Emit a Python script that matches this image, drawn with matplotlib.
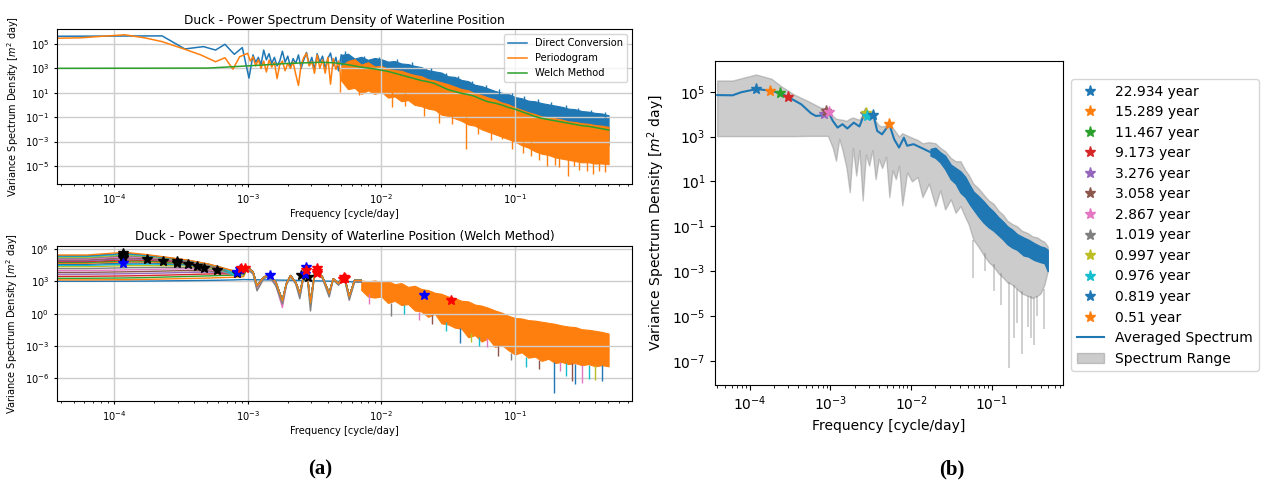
import numpy as np
import matplotlib
matplotlib.use("Agg")
import matplotlib.pyplot as plt
from matplotlib.ticker import NullLocator

# every number below is log10: frequency [cycle/day] and PSD [m^2 day]

# ---- (a) top: three estimates ----
direct_f = [-4.42, -3.64, -3.47, -3.33, -3.24, -3.17, -3.10, -3.04, -2.99, -2.96, -2.94, -2.92, -2.90,
            -2.88, -2.86, -2.84, -2.82, -2.80, -2.78, -2.76, -2.74, -2.72, -2.70, -2.68, -2.66, -2.64,
            -2.62, -2.60, -2.58, -2.56, -2.54, -2.52, -2.50, -2.48, -2.46, -2.44, -2.42, -2.40, -2.38,
            -2.36, -2.34, -2.32, -2.30]
direct_v = [5.63, 5.66, 4.59, 4.78, 4.5, 4.97, 4.15, 4.7, 2.2, 4.1, 3.5, 3.9, 3.3,
            4.5, 3.7, 4.2, 3.4, 3.9, 3.2, 3.6, 4.4, 3.5, 4.0, 3.1, 3.8, 3.4,
            4.1, 3.0, 3.7, 4.3, 3.3, 3.9, 2.9, 4.2, 3.5, 4.0, 3.0, 3.8, 4.25,
            3.2, 3.9, 2.8, 4.1]
perio_f = [-4.42, -4.25, -4.10, -3.92, -3.77, -3.64, -3.47, -3.35, -3.24, -3.17, -3.11, -3.06, -3.00,
           -2.98, -2.96, -2.94, -2.92, -2.90, -2.88, -2.86, -2.84, -2.82, -2.80, -2.78, -2.76, -2.74,
           -2.72, -2.70, -2.68, -2.66, -2.64, -2.62, -2.60, -2.58, -2.56, -2.54, -2.52, -2.50, -2.48,
           -2.46, -2.44, -2.42, -2.40, -2.38, -2.36, -2.34, -2.32, -2.30]
perio_v = [5.47, 5.5, 5.62, 5.75, 5.5, 5.19, 4.56, 4.1, 3.54, 3.87, 2.93, 3.95, 4.23,
           3.6, 3.95, 3.2, 3.7, 3.0, 3.6, 2.7, 3.68, 3.1, 3.5, 2.16, 3.3, 3.6,
           2.8, 3.4, 3.0, 3.5, 2.5, 1.6, 3.3, 3.9, 4.23, 3.2, 3.54, 2.6, 4.1,
           3.0, 3.7, 2.6, 3.9, 1.7, 3.8, 2.9, 3.6, 2.0]

top_band_f = [-2.30, -2.25, -2.20, -2.15, -2.10, -2.05, -2.00, -1.95, -1.90, -1.85, -1.80, -1.75, -1.70, -1.65,
              -1.60, -1.55, -1.50, -1.45, -1.40, -1.35, -1.30, -1.25, -1.20, -1.15, -1.10, -1.05, -1.00, -0.95,
              -0.90, -0.85, -0.80, -0.75, -0.70, -0.65, -0.60, -0.55, -0.50, -0.45, -0.40, -0.35, -0.30]
direct_hi = [4.1, 4.2, 3.8, 3.95, 3.7, 3.85, 3.75, 3.55, 3.6, 3.4, 3.35, 3.2, 3.1, 2.85,
             2.75, 2.65, 2.35, 2.3, 2.05, 1.95, 1.65, 1.55, 1.35, 1.15, 1.0, 0.9, 0.65, 0.55,
             0.35, 0.3, 0.15, 0.05, -0.05, -0.15, -0.3, -0.35, -0.5, -0.55, -0.65, -0.7, -0.85]
direct_lo = [3.3, 2.6, 2.6, 2.1, 2.4, 2.0, 2.2, 1.8, 1.8, 1.6, 1.5, 1.2, 1.1, 0.9,
             0.8, 0.5, 0.4, 0.2, 0.0, -0.2, -0.4, -0.6, -0.8, -1.0, -1.2, -1.4, -1.6, -1.9,
             -2.1, -2.3, -2.5, -2.6, -2.7, -2.8, -2.9, -3.0, -3.1, -3.1, -3.2, -3.3, -3.3]
direct_spike_f = [-2.27, -2.13, -2.02, -1.88, -1.77, -1.63, -1.52, -1.43, -1.32, -1.22, -1.12,
                  -1.02, -0.93, -0.83, -0.73, -0.62, -0.53, -0.43, -0.33]
direct_spike_hi = [4.4, 4.05, 3.95, 3.8, 3.5, 3.05, 2.65, 2.4, 1.95, 1.6, 1.3,
                   0.95, 0.7, 0.45, 0.25, 0.0, -0.25, -0.4, -0.6]
direct_spike_lo = [3.8, 3.6, 3.5, 3.3, 3.1, 2.7, 2.2, 2.0, 1.5, 1.1, 0.8,
                   0.5, 0.2, 0.0, -0.2, -0.4, -0.7, -0.8, -1.0]
perio_hi = [3.2, 3.6, 3.75, 3.3, 3.5, 3.15, 3.2, 2.95, 2.85, 2.8, 2.6, 2.45, 2.35, 2.1,
            2.0, 1.85, 1.7, 1.5, 1.3, 1.2, 0.95, 0.8, 0.6, 0.45, 0.2, 0.05, -0.2, -0.4,
            -0.6, -0.75, -0.95, -1.0, -1.1, -1.2, -1.35, -1.4, -1.5, -1.55, -1.65, -1.7, -1.8]
perio_lo = [2.0, 1.3, 1.4, 0.9, 1.2, 0.9, 1.1, 0.6, 0.7, 0.3, 0.4, 0.0, -0.1, -0.3,
            -0.4, -0.8, -0.9, -1.1, -1.3, -1.6, -1.7, -2.0, -2.2, -2.4, -2.6, -2.8, -3.0, -3.3,
            -3.5, -3.8, -4.0, -4.1, -4.3, -4.4, -4.5, -4.6, -4.7, -4.7, -4.8, -4.8, -4.85]
perio_spike_f = [-2.31, -2.17, -2.05, -1.92, -1.82, -1.68, -1.57, -1.47, -1.37, -1.28, -1.18, -1.10,
                 -1.02, -0.94, -0.88, -0.82, -0.76, -0.70, -0.67, -0.60, -0.56, -0.52, -0.46, -0.42,
                 -0.37, -0.33]
perio_spike_lo = [1.06, 0.79, 1.06, -0.2, -0.1, -0.9, -1.5, -1.6, -3.6, -2.4, -2.9, -2.8,
                  -3.6, -3.9, -4.2, -4.5, -5.0, -4.9, -5.1, -5.8, -5.0, -5.3, -5.4, -5.7,
                  -5.4, -5.5]
perio_spike_hi = [2.5, 2.5, 2.3, 1.5, 1.0, 0.5, 0.0, -0.5, -1.0, -1.5, -1.8, -1.5,
                  -2.8, -3.0, -3.0, -3.5, -3.8, -4.0, -4.1, -4.3, -4.4, -4.4, -4.5, -4.5,
                  -4.6, -4.6]

welch_f = [-4.42, -3.3, -3.0, -2.7, -2.45, -2.35, -2.25, -2.15, -2.05, -2.00, -1.95, -1.90, -1.85, -1.80,
           -1.75, -1.70, -1.65, -1.60, -1.55, -1.50, -1.45, -1.40, -1.35, -1.30, -1.25, -1.20, -1.15, -1.10,
           -1.05, -1.00, -0.95, -0.90, -0.85, -0.80, -0.75, -0.70, -0.65, -0.60, -0.55, -0.50, -0.45, -0.40,
           -0.35, -0.30]
welch_v = [3.0, 3.02, 3.2, 3.4, 3.5, 3.45, 3.3, 3.1, 2.95, 2.85, 2.75, 2.6, 2.45, 2.3,
           2.15, 2.0, 1.9, 1.75, 1.5, 1.25, 1.1, 0.95, 0.85, 0.7, 0.45, 0.25, 0.15, 0.0,
           -0.2, -0.35, -0.55, -0.75, -0.95, -1.1, -1.2, -1.3, -1.4, -1.5, -1.6, -1.7, -1.75, -1.85,
           -1.95, -2.05]

# ---- (a) bottom: Welch spectra with different segment lengths ----
seg_low_f = [-4.42, -4.2, -3.92, -3.75, -3.6, -3.45, -3.3, -3.2, -3.1, -3.03]
seg_low_v = [
    [3.02, 3.02, 3.03, 3.04, 3.06, 3.08, 3.1, 3.12, 3.15, 3.18],
    [3.15, 3.15, 3.17, 3.2, 3.24, 3.28, 3.32, 3.36, 3.4, 3.45],
    [3.3, 3.3, 3.33, 3.37, 3.42, 3.47, 3.52, 3.56, 3.6, 3.62],
    [3.48, 3.48, 3.52, 3.56, 3.6, 3.65, 3.7, 3.72, 3.7, 3.75],
    [3.68, 3.68, 3.72, 3.76, 3.8, 3.85, 3.88, 3.85, 3.75, 3.85],
    [3.85, 3.85, 3.9, 3.94, 3.98, 4.02, 4.0, 3.9, 3.7, 3.9],
    [4.02, 4.02, 4.08, 4.12, 4.16, 4.18, 4.12, 3.95, 3.7, 3.95],
    [4.2, 4.2, 4.28, 4.3, 4.32, 4.3, 4.2, 4.0, 3.7, 4.0],
    [4.38, 4.38, 4.47, 4.48, 4.48, 4.45, 4.3, 4.05, 3.72, 4.0],
    [4.5, 4.5, 4.6, 4.62, 4.6, 4.55, 4.38, 4.1, 3.6, 4.05],
    [4.6, 4.6, 4.72, 4.72, 4.68, 4.6, 4.42, 4.12, 3.75, 4.05],
    [4.7, 4.7, 4.83, 4.82, 4.76, 4.66, 4.45, 4.15, 3.8, 4.1],
    [4.78, 4.78, 4.92, 4.9, 4.82, 4.7, 4.48, 4.18, 3.8, 4.1],
    [4.86, 4.86, 5.02, 4.98, 4.9, 4.75, 4.5, 4.2, 3.85, 4.12],
    [4.94, 4.94, 5.12, 5.06, 4.96, 4.8, 4.52, 4.22, 3.85, 4.12],
    [5.02, 5.02, 5.22, 5.14, 5.02, 4.84, 4.55, 4.24, 3.88, 4.15],
    [5.1, 5.1, 5.3, 5.22, 5.08, 4.88, 4.57, 4.26, 3.9, 4.15],
    [5.18, 5.18, 5.4, 5.28, 5.12, 4.9, 4.58, 4.27, 3.9, 4.18],
    [5.26, 5.26, 5.48, 5.35, 5.16, 4.93, 4.6, 4.28, 3.92, 4.18],
    [5.33, 5.33, 5.56, 5.4, 5.2, 4.95, 4.62, 4.3, 3.7, 4.2],
    [5.4, 5.4, 5.64, 5.45, 5.22, 4.97, 4.63, 4.3, 3.95, 4.2],
    [5.47, 5.47, 5.72, 5.5, 5.25, 5.0, 4.65, 4.32, 3.98, 4.23],
]
seg_tail_f = [-3.00, -2.96, -2.93, -2.88, -2.84, -2.79, -2.74, -2.71, -2.68, -2.64, -2.61, -2.58, -2.56, -2.53,
              -2.50, -2.48, -2.44, -2.39, -2.36, -2.32, -2.28, -2.24, -2.20, -2.15]
seg_tail_a = [4.3, 3.9, 2.6, 3.4, 3.62, 2.95, 1.2, 2.8, 3.55, 2.9, 1.9, 3.55, 4.2, 1.0,
              3.7, 4.2, 3.4, 1.9, 3.25, 2.8, 3.6, 1.6, 3.1, 3.1]
seg_tail_b = [4.2, 3.8, 2.3, 3.3, 3.55, 2.7, 0.56, 2.7, 3.5, 2.8, 1.6, 3.5, 4.1, 0.8,
              3.6, 4.1, 3.3, 1.7, 3.2, 2.7, 3.5, 1.4, 3.0, 3.0]
seg_tail_c = [4.1, 3.7, 2.13, 3.25, 3.5, 2.6, 0.9, 2.65, 3.45, 2.75, 1.4, 3.45, 4.05, 0.25,
              3.55, 4.05, 3.25, 1.55, 3.15, 2.65, 3.45, 1.25, 2.95, 2.95]
coarse_tail_f = [-2.6, -2.15]
coarse_tail_v = [3.1, 2.95]
tail_pick = ["coarse"] + ["a"] * 15 + ["b", "c"] + ["a"] * 4

seg_band_f = [-2.15, -2.10, -2.05,
              -2.00, -1.95, -1.90, -1.85, -1.80, -1.75, -1.70, -1.65, -1.60, -1.55, -1.50, -1.45, -1.40, -1.35,
              -1.30, -1.25, -1.20, -1.15, -1.10, -1.05, -1.00, -0.95, -0.90, -0.85, -0.80, -0.75, -0.70, -0.65,
              -0.60, -0.55, -0.50, -0.45, -0.40, -0.35, -0.30]
seg_band_hi = [3.1, 3.0, 3.1,
               2.95, 3.05, 2.75, 2.85, 2.5, 2.6, 2.3, 2.2, 1.95, 1.85, 1.6, 1.45, 1.2, 1.15,
               0.85, 0.75, 0.55, 0.3, 0.1, -0.2, -0.4, -0.45, -0.6, -0.65, -0.75, -0.85, -0.95, -1.1,
               -1.2, -1.25, -1.45, -1.5, -1.6, -1.7, -1.85]
seg_band_lo = [2.2, 1.6, 1.5,
               1.6, 1.0, 1.2, 0.8, 0.9, 0.3, 0.2, -0.3, 0.0, -0.9, -1.0, -1.3, -1.4, -2.2,
               -2.0, -2.6, -2.3, -3.1, -2.9, -3.4, -3.8, -3.6, -4.1, -4.0, -4.4, -4.2, -4.6, -4.5,
               -4.7, -4.6, -4.8, -4.7, -4.9, -4.8, -4.9]
seg_spike_f = [-2.09, -1.93, -1.83, -1.72, -1.62, -1.52, -1.41, -1.33, -1.27, -1.21, -1.13, -1.03, -0.92,
               -0.82, -0.71, -0.66, -0.62, -0.57, -0.55, -0.50, -0.45, -0.40, -0.35]
seg_spike_lo = [0.9, -0.23, 0.0, -0.6, -1.0, -1.6, -2.7, -2.6, -3.0, -3.1, -3.9, -4.3, -5.0,
                -5.2, -7.42, -5.3, -5.8, -6.3, -6.6, -6.5, -6.1, -6.2, -6.3]
seg_spike_hi = [1.8, 1.0, 0.8, 0.2, -0.1, -0.8, -1.3, -1.8, -2.2, -2.3, -3.0, -3.7, -4.0,
                -4.3, -4.5, -4.5, -4.6, -4.6, -4.7, -4.8, -4.8, -4.8, -4.8]
seg_spike_c = ["C6", "C7", "C9", "C6", "C5", "C9", "C0", "C8", "C9", "C6", "C5", "C7", "C9",
               "C5", "C0", "C6", "C9", "C5", "C0", "C6", "C9", "C8", "C0"]

peak_k_f = [-3.93, -3.93, -3.93, -3.93, -3.75, -3.63, -3.53, -3.53, -3.45, -3.38, -3.33, -3.23, -3.08, -2.60, -2.55]
peak_k_v = [5.63, 5.47, 5.3, 5.15, 5.07, 4.91, 4.75, 4.9, 4.6, 4.44, 4.26, 4.04, 3.76, 3.6, 3.44]
peak_b_f = [-3.93, -3.08, -3.06, -2.83, -2.56, -2.57, -1.68]
peak_b_v = [4.75, 3.91, 4.14, 3.6, 4.38, 3.69, 1.7]
peak_r_f = [-3.05, -3.02, -2.56, -2.48, -2.48, -2.48, -2.28, -2.27, -2.29, -1.48]
peak_r_v = [4.23, 4.23, 4.1, 4.3, 4.0, 3.75, 3.45, 3.3, 3.2, 1.3]

# ---- (b): averaged spectrum, range and picked peaks ----
avg_f = [-4.40, -4.21, -4.10, -3.91, -3.73, -3.62, -3.52, -3.36, -3.24, -3.18, -3.08, -3.03, -2.97, -2.91,
         -2.85, -2.79, -2.71, -2.64, -2.57, -2.52, -2.47, -2.42, -2.36, -2.27, -2.21, -2.15, -2.09, -2.05,
         -1.97, -1.84, -1.76]
avg_v = [4.85, 4.84, 4.98, 5.12, 5.04, 4.93, 4.76, 4.44, 4.04, 3.92, 3.95, 4.14, 3.7, 3.4,
         3.55, 3.36, 3.62, 3.45, 4.1, 3.77, 4.0, 3.25, 3.1, 3.55, 2.88, 2.51, 2.95, 2.59,
         2.66, 2.44, 2.3]
avg_band_f = [-1.76, -1.70, -1.64, -1.58, -1.51, -1.45, -1.39, -1.33, -1.27, -1.23, -1.17, -1.10, -1.04,
              -0.98, -0.92, -0.86, -0.81, -0.75, -0.69, -0.61, -0.55, -0.48, -0.40, -0.35, -0.31]
avg_hi = [2.45, 2.5, 2.3, 2.15, 1.75, 1.6, 1.45, 1.2, 0.8, 0.55, 0.35, 0.1, -0.15,
          -0.35, -0.6, -0.8, -1.0, -1.15, -1.35, -1.5, -1.6, -1.75, -1.9, -1.95, -2.05]
avg_lo = [2.15, 2.05, 1.85, 1.55, 1.1, 0.9, 0.5, 0.3, -0.05, -0.25, -0.55, -0.85, -1.05,
          -1.2, -1.4, -1.6, -1.8, -1.95, -2.05, -2.3, -2.35, -2.5, -2.6, -2.65, -3.0]

range_f = [-4.40, -4.21, -3.92, -3.73, -3.61, -3.45, -3.28, -3.12, -3.03, -2.97,
           -2.93, -2.89, -2.85, -2.80, -2.76, -2.72, -2.68, -2.64, -2.60, -2.56,
           -2.52, -2.48, -2.44, -2.40, -2.36, -2.31, -2.27, -2.23, -2.19, -2.15,
           -2.11, -2.05, -1.99, -1.92, -1.86, -1.78, -1.70, -1.64, -1.58, -1.51,
           -1.45, -1.39, -1.33, -1.29, -1.23, -1.17, -1.10, -1.04, -0.98, -0.92,
           -0.86, -0.81, -0.75, -0.69, -0.63, -0.56, -0.50, -0.44, -0.40, -0.35, -0.31]
range_hi = [5.5, 5.5, 5.77, 5.58, 5.25, 4.88, 4.59, 4.29, 4.25, 3.92,
            3.8, 3.77, 3.75, 3.7, 3.8, 3.85, 3.8, 3.75, 4.0, 4.25,
            4.05, 4.15, 3.7, 3.5, 3.45, 3.5, 3.75, 3.4, 3.2, 3.0,
            3.15, 3.05, 2.95, 2.85, 2.7, 2.75, 2.7, 2.5, 2.35, 2.05,
            1.9, 1.9, 1.5, 1.3, 0.9, 0.7, 0.4, 0.15, 0.0, -0.3,
            -0.5, -0.75, -0.9, -1.0, -1.2, -1.3, -1.45, -1.5, -1.6, -1.7, -1.9]
range_lo = [3.02, 3.02, 3.02, 3.02, 3.02, 3.02, 3.03, 3.03, 3.03, 2.5,
            1.92, 2.9, 2.4, 1.6, 0.52, 2.5, 1.26, 2.4, 0.15, 2.2,
            1.7, 2.4, 1.1, 2.0, 1.6, 2.1, 0.3, 1.5, 1.1, 1.7,
            -0.07, 1.4, 1.0, 1.2, 0.3, 0.9, -0.1, 0.6, -0.25, 0.2,
            -0.4, -0.1, -0.6, -0.9, -1.6, -1.9, -2.3, -2.6, -2.8, -3.1,
            -3.3, -3.5, -3.6, -3.8, -4.0, -4.1, -4.2, -4.1, -4.0, -3.6, -3.0]
range_spike_f = [-1.23, -1.09, -0.97, -0.89, -0.79, -0.73, -0.69, -0.63, -0.56, -0.52, -0.48, -0.44, -0.36]
range_spike_lo = [-3.3, -3.0, -3.9, -4.5, -7.3, -6.0, -5.3, -6.7, -5.5, -6.0, -6.3, -5.0, -5.6]
range_spike_hi = [-1.6, -2.2, -2.7, -3.1, -3.5, -3.6, -3.8, -3.9, -4.1, -4.1, -4.2, -4.1, -3.8]

periods = ["22.934", "15.289", "11.467", "9.173", "3.276", "3.058", "2.867",
           "1.019", "0.997", "0.976", "0.819", "0.51"]
period_f = [-3.923, -3.747, -3.622, -3.525, -3.078, -3.048, -3.020, -2.571, -2.561, -2.552, -2.476, -2.270]
period_v = [5.12, 5.04, 4.93, 4.76, 3.99, 4.14, 4.1, 3.99, 4.07, 3.92, 3.98, 3.55]

XLIM = (3.77e-5, 0.75)


def p(v):
    return 10.0 ** np.asarray(v, dtype=float)


def style_left(ax, yticks, ylim):
    ax.set_xscale("log")
    ax.set_yscale("log")
    ax.set_xlim(*XLIM)
    ax.set_ylim(*ylim)
    ax.set_yticks(p(yticks))
    ax.yaxis.set_minor_locator(NullLocator())
    ax.grid(True, color="#cccccc", lw=1.0)
    ax.tick_params(labelsize=7.1, length=2.5)
    ax.tick_params(which="minor", length=1.5)
    ax.set_xlabel("Frequency [cycle/day]", fontsize=7.1, labelpad=2)
    ax.set_ylabel("Variance Spectrum Density [$m^2$ day]", fontsize=7.0, labelpad=3)


def main():
    fig = plt.figure(figsize=(12.66, 4.9), dpi=100)

    # top left
    ax1 = fig.add_axes([0.0453, 0.6245, 0.4539, 0.3157])
    ax1.plot(p(direct_f), p(direct_v), color="C0", lw=1.1, label="Direct Conversion")
    ax1.fill_between(p(top_band_f), p(direct_lo), p(direct_hi), color="C0", lw=0.8)
    ax1.vlines(p(direct_spike_f), p(direct_spike_lo), p(direct_spike_hi), color="C0", lw=1.0)
    ax1.plot(p(perio_f), p(perio_v), color="C1", lw=1.1, label="Periodogram")
    ax1.fill_between(p(top_band_f), p(perio_lo), p(perio_hi), color="C1", lw=0.8)
    ax1.vlines(p(perio_spike_f), p(perio_spike_lo), p(perio_spike_hi), color="C1", lw=1.0)
    ax1.plot(p(welch_f), p(welch_v), color="C2", lw=1.1, label="Welch Method")
    style_left(ax1, [-5, -3, -1, 1, 3, 5], (10 ** -6.48, 10 ** 6.2))
    ax1.set_title("Duck - Power Spectrum Density of Waterline Position", fontsize=8.7, pad=4)
    ax1.legend(loc="upper right", fontsize=7.1)

    # bottom left
    ax2 = fig.add_axes([0.0453, 0.1816, 0.4539, 0.3164])
    tails = {"a": (seg_tail_f, seg_tail_a), "b": (seg_tail_f, seg_tail_b),
             "c": (seg_tail_f, seg_tail_c), "coarse": (coarse_tail_f, coarse_tail_v)}
    for i, row in enumerate(seg_low_v):
        tf, tv = tails[tail_pick[i]]
        ax2.plot(p(seg_low_f + tf), p(row + tv), color=f"C{i % 10}", lw=1.0)
    ax2.vlines(p(seg_spike_f), p(seg_spike_lo), p(seg_spike_hi), colors=seg_spike_c, lw=1.0)
    ax2.fill_between(p(seg_band_f), p(seg_band_lo), p(seg_band_hi), color="C1", lw=0.8)
    ax2.plot(p(peak_k_f), p(peak_k_v), ls="none", marker="*", color="k", ms=7)
    ax2.plot(p(peak_b_f), p(peak_b_v), ls="none", marker="*", color="b", ms=7)
    ax2.plot(p(peak_r_f), p(peak_r_v), ls="none", marker="*", color="r", ms=7)
    style_left(ax2, [-6, -3, 0, 3, 6], (10 ** -8.14, 10 ** 6.31))
    ax2.set_title("Duck - Power Spectrum Density of Waterline Position (Welch Method)", fontsize=8.7, pad=4)

    # right
    ax3 = fig.add_axes([0.565, 0.2143, 0.2744, 0.6612])
    rng = ax3.fill_between(p(range_f), p(range_lo), p(range_hi), color="gray", alpha=0.4, lw=1.0,
                           label="Spectrum Range")
    ax3.vlines(p(range_spike_f), p(range_spike_lo), p(range_spike_hi), color="gray", alpha=0.4, lw=1.3)
    avg_line, = ax3.plot(p(avg_f), p(avg_v), color="C0", lw=1.5, label="Averaged Spectrum")
    ax3.fill_between(p(avg_band_f), p(avg_lo), p(avg_hi), color="C0", lw=1.0)
    handles = []
    for i, (per, f, v) in enumerate(zip(periods, period_f, period_v)):
        h, = ax3.plot(p([f]), p([v]), ls="none", marker="*", ms=8, color=f"C{i % 10}",
                      label=f"{per} year", zorder=5)
        handles.append(h)
    handles += [avg_line, rng]
    ax3.set_xscale("log")
    ax3.set_yscale("log")
    ax3.set_xlim(*XLIM)
    ax3.set_ylim(10 ** -8.08, 10 ** 6.37)
    ax3.set_yticks(p([-7, -5, -3, -1, 1, 3, 5]))
    ax3.yaxis.set_minor_locator(NullLocator())
    ax3.tick_params(labelsize=10)
    ax3.set_xlabel("Frequency [cycle/day]", fontsize=10)
    ax3.set_ylabel("Variance Spectrum Density [$m^2$ day]", fontsize=10)
    ax3.legend(handles=handles, loc="upper left", bbox_to_anchor=(1.024, 0.944), borderaxespad=0,
               fontsize=10, labelspacing=0.47)

    fig.text(0.2528, 0.041, "(a)", ha="center", va="center", fontsize=15, fontweight="bold",
             family="Liberation Serif")
    fig.text(0.752, 0.041, "(b)", ha="center", va="center", fontsize=15, fontweight="bold",
             family="Liberation Serif")

    fig.savefig("out.png", dpi=100)


if __name__ == "__main__":
    main()
